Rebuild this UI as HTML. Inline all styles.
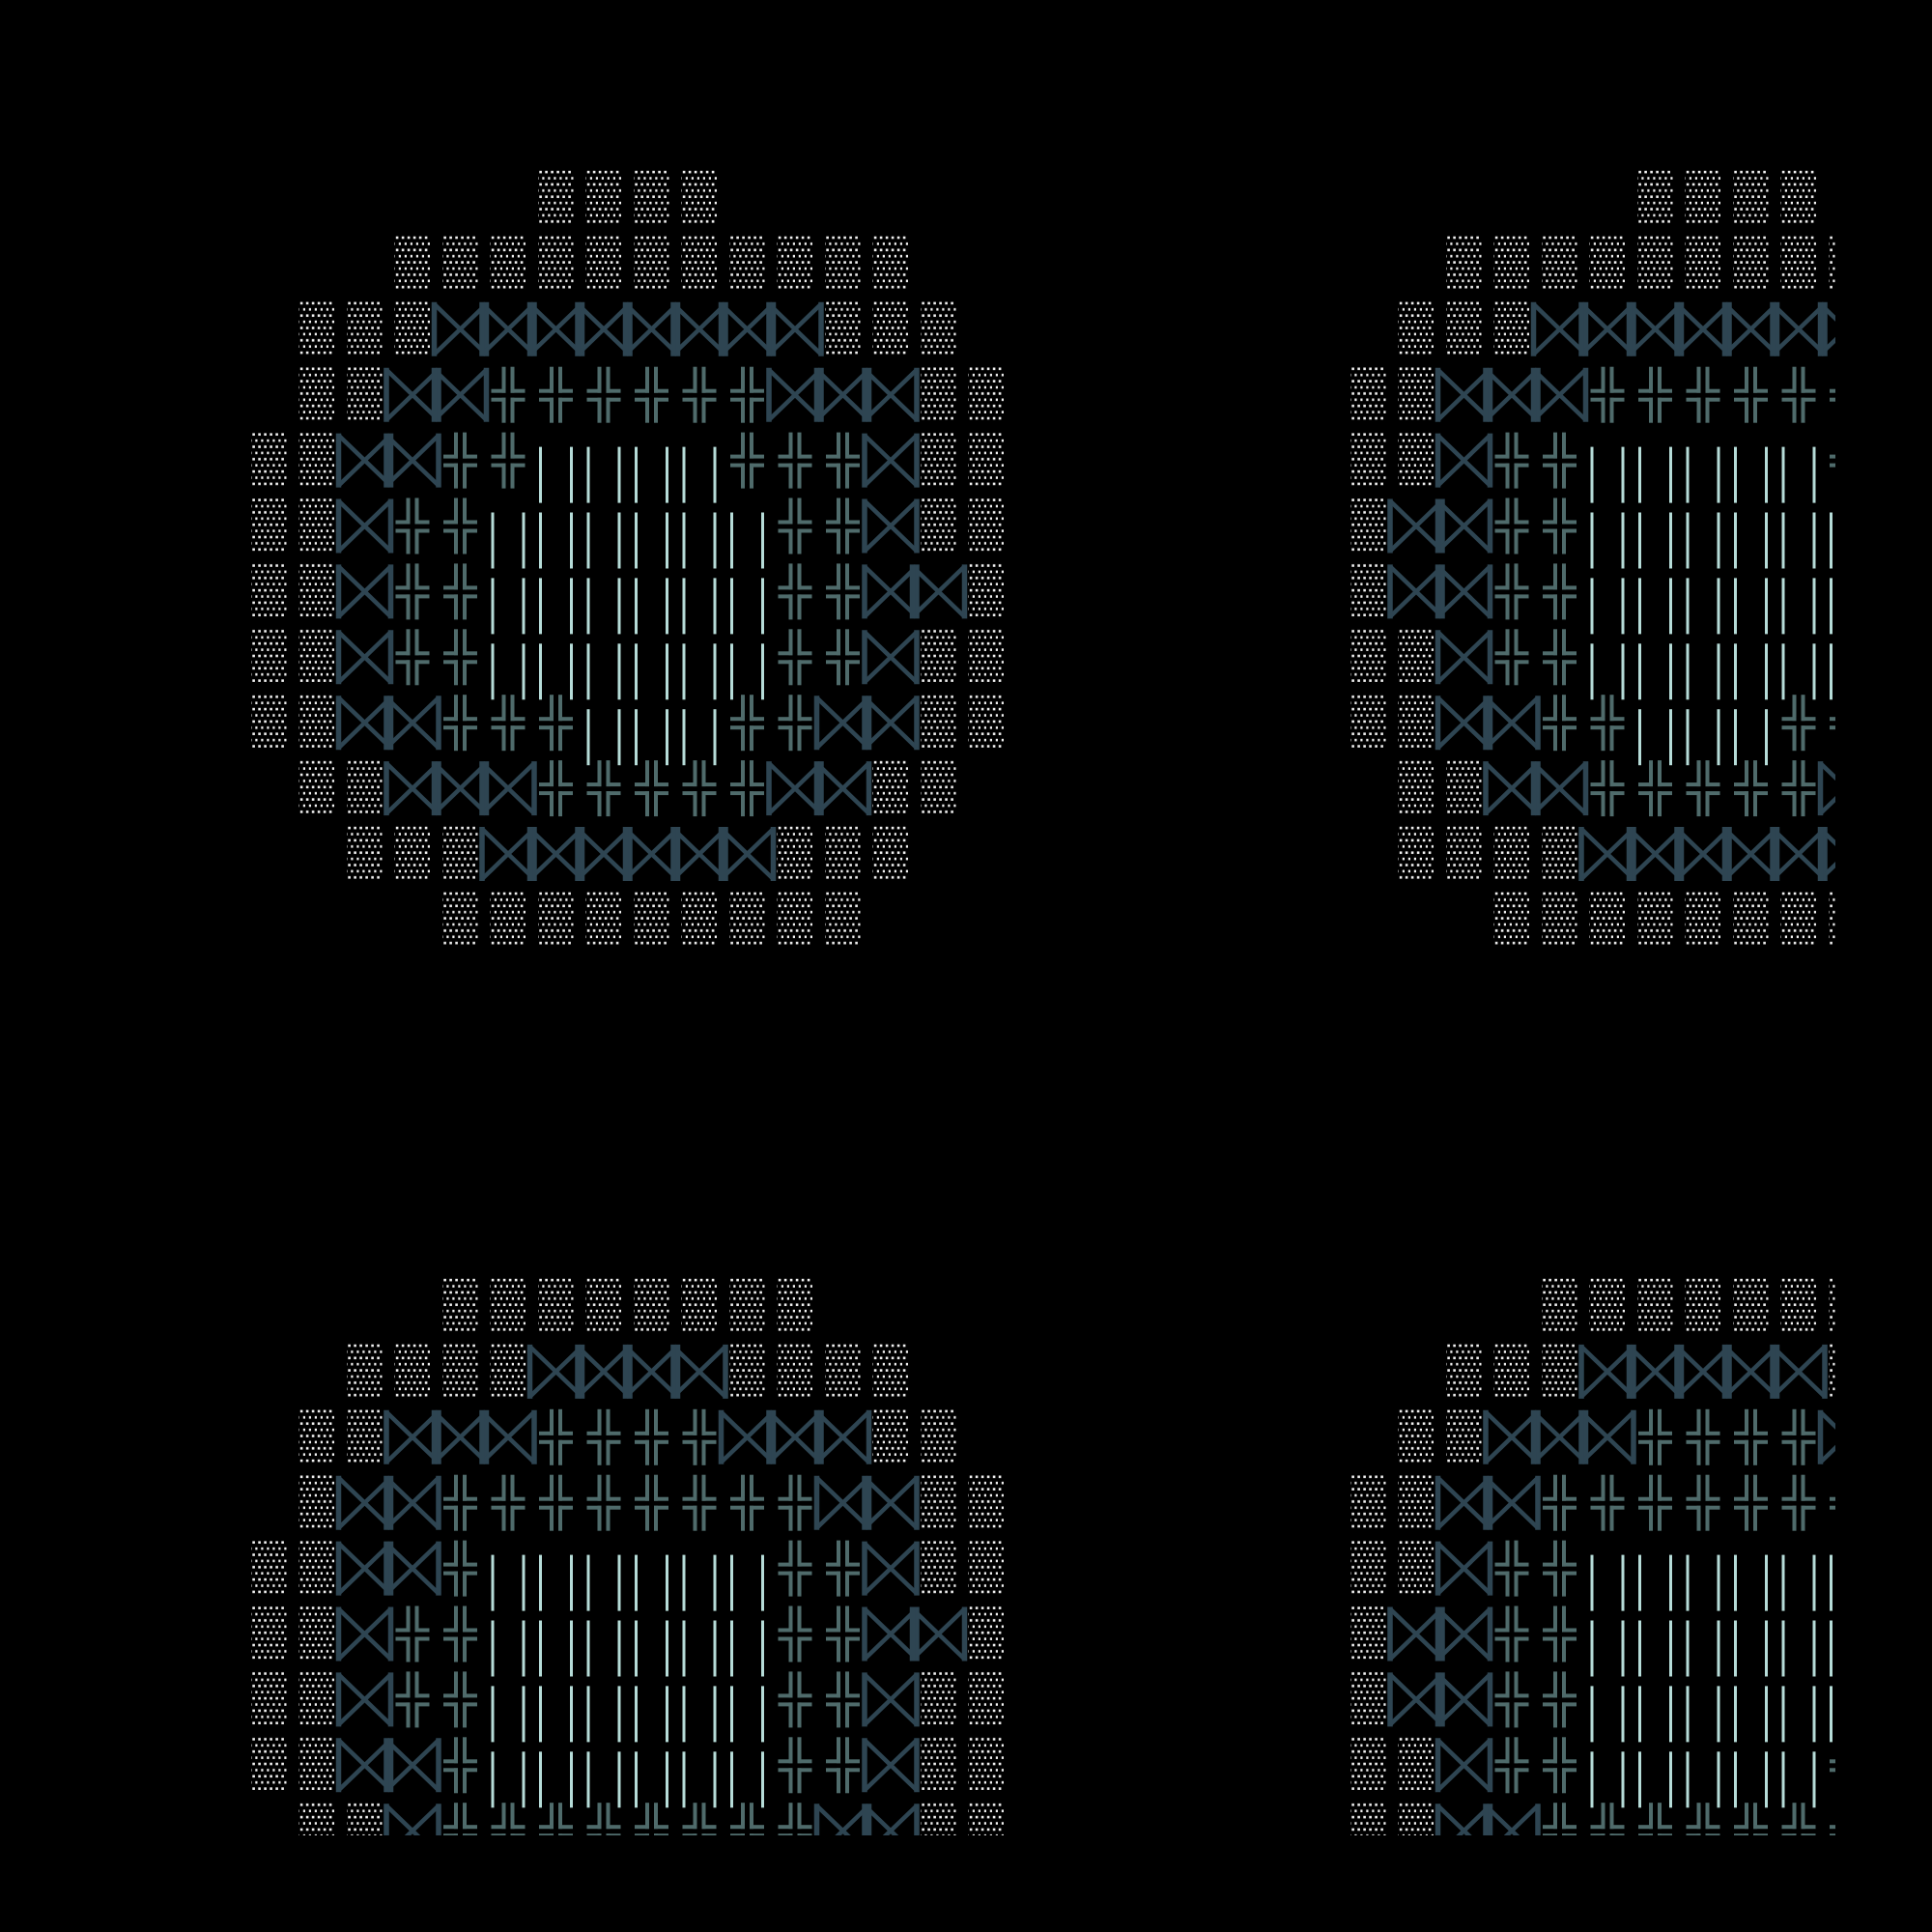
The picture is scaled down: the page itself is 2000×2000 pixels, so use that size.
<!DOCTYPE html>
<html><head><meta charset="utf-8">
<style>html,body{margin:0;padding:0;background:#000;}svg{display:block}</style>
</head><body>
<svg id="s" xmlns="http://www.w3.org/2000/svg" width="2000" height="2000" viewBox="0 0 2000 2000">
<defs>
<pattern id="dots" patternUnits="userSpaceOnUse" x="0" y="0" width="6" height="12.8">
<rect x="0.8" y="0.8" width="2.6" height="2.6" fill="#f2f2f2"/>
<rect x="3.8" y="7.2" width="2.6" height="2.6" fill="#f2f2f2"/>
</pattern>
<g id="D"><rect x="-18.5" y="0" width="37" height="57" fill="url(#dots)"/></g>
<g id="B" stroke="#2e4552" fill="none">
<path d="M-27,3 L27,55 M-27,55 L27,3" stroke-width="4.5"/>
<path d="M-27,1 L-27,57 M27,1 L27,57" stroke-width="5.5"/>
</g>
<g id="X" fill="#4f6b6b">
<rect x="-6.5" y="0" width="4" height="27"/><rect x="-17.5" y="23" width="15" height="4"/>
<rect x="2.5" y="0" width="4" height="27"/><rect x="2.5" y="23" width="15" height="4"/>
<rect x="-6.5" y="32" width="4" height="26"/><rect x="-17.5" y="32" width="15" height="4"/>
<rect x="2.5" y="32" width="4" height="26"/><rect x="2.5" y="32" width="15" height="4"/>
</g>
<g id="V" fill="#b6dcd8">
<rect x="-17.5" y="15" width="3" height="58"/><rect x="14.5" y="15" width="3" height="58"/>
</g>
<clipPath id="cp"><rect x="0" y="0" width="1900" height="1900"/></clipPath>
</defs>
<rect width="2000" height="2000" fill="#000"/>
<g id="g" clip-path="url(#cp)"></g>
</svg>
<script>
var P=[
[0,0,[
"......DDDD......",
"...DDDDDDDDDDD..",
".DDDBBBBBBBBDDD.",
".DDBBXXXXXXBBBDD",
"DDBBXXVVVVXXXBDD",
"DDBXXVVVVVVXXBDD",
"DDBXXVVVVVVXXBBD",
"DDBXXVVVVVVXXBDD",
"DDBBXXXVVVXXBBDD",
".DDBBBXXXXXBBDD.",
"..DDDBBBBBBDDD..",
"....DDDDDDDDD..."]],
[1138,0,[
"......DDDD.",
"..DDDDDDDDD",
".DDDBBBBBBB",
"DDBBBXXXXXX",
"DDBXXVVVVVX",
"DBBXXVVVVVV",
"DBBXXVVVVVV",
"DDBXXVVVVVV",
"DDBBXXVVVXX",
".DDBBXXXXXB",
".DDDDBBBBBB",
"...DDDDDDDD"]],
[0,1147,[
"....DDDDDDDD....",
"..DDDDBBBBDDDD..",
".DDBBBXXXXBBBDD.",
".DBBXXXXXXXXBBDD",
"DDBBXVVVVVVXXBDD",
"DDBXXVVVVVVXXBBD",
"DDBXXVVVVVVXXBDD",
"DDBBXVVVVVVXXBDD",
".DDBXXXXXXXXBBDD"]],
[1138,1147,[
"....DDDDDDD",
"..DDDBBBBBD",
".DDBBBXXXXB",
"DDBBXXXXXXX",
"DDBXXVVVVVV",
"DBBXXVVVVVV",
"DBBXXVVVVVV",
"DDBXXVVVVVX",
"DDBBXXXXXXX"]]
];
var g=document.getElementById('g'),NS='http://www.w3.org/2000/svg',h='';
P.forEach(function(p){
  p[2].forEach(function(row,r){
    for(var c=0;c<row.length;c++){
      var ch=row[c]; if(ch=='.')continue;
      var x=278.5+49.5*c+p[0], y=176+67.9*r+p[1];
      h+='<use href="#'+ch+'" x="'+x.toFixed(1)+'" y="'+y.toFixed(1)+'"/>';
    }
  });
});
g.innerHTML=h;
</script>
</body></html>
